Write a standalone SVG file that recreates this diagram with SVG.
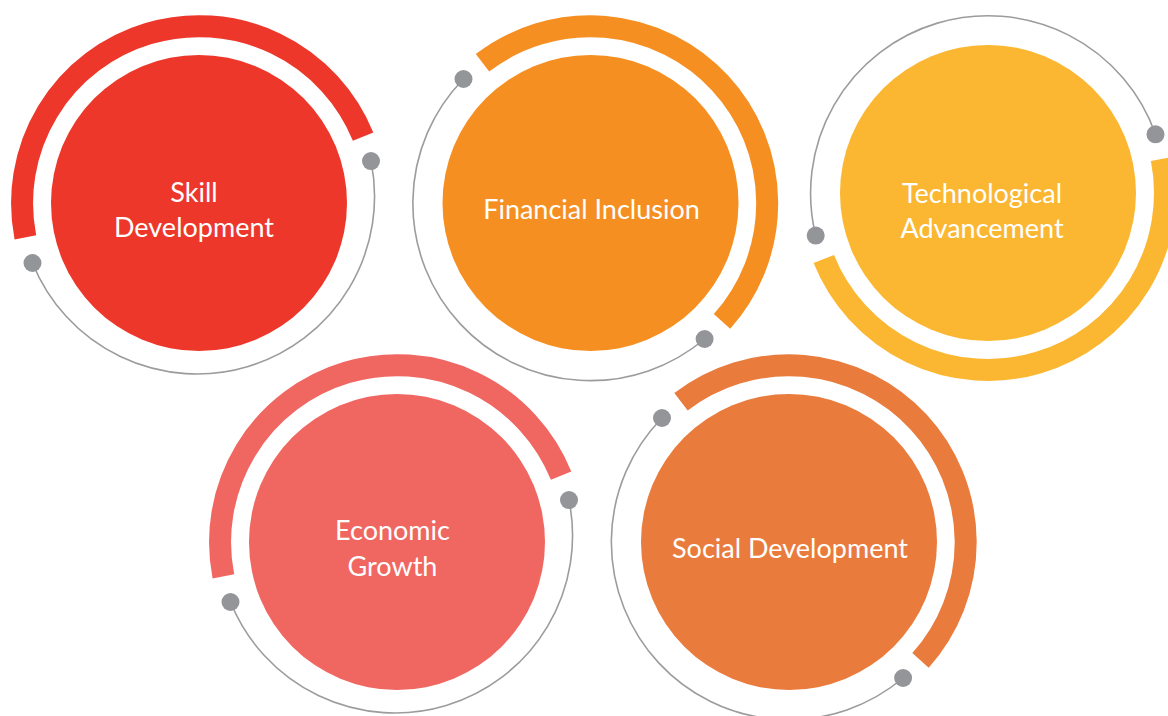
<svg xmlns="http://www.w3.org/2000/svg" width="1168" height="716" viewBox="0 0 1168 716">
<style>
.band{fill:none;stroke-width:22;stroke-linecap:butt}
.ring{fill:none;stroke:#9b9c9e;stroke-width:1.6}
.dot{fill:#939598}
.lbl{font-family:Lato,"Open Sans",sans-serif;font-size:27px;fill:#ffffff;text-anchor:middle}
</style>
<rect width="1168" height="716" fill="#ffffff"/>
<g id="node-skill">
<circle cx="199" cy="203" r="148" fill="#ed372a"/>
<path class="band" stroke="#ed372a" d="M25.4 237.4 A177 177 0 0 1 363.1 136.7"/>
<path class="ring" d="M371 161.1 A177.5 177.5 0 0 1 32.5 263"/>
<circle class="dot" cx="371" cy="161.1" r="9"/>
<circle class="dot" cx="32.5" cy="263" r="9"/>
<text class="lbl" x="194" y="202">Skill</text>
<text class="lbl" x="194" y="237">Development</text>
</g>
<g id="node-financial">
<circle cx="590.5" cy="203" r="148" fill="#f68f21"/>
<path class="band" stroke="#f68f21" d="M482.5 62.8 A177 177 0 0 1 722 321.4"/>
<path class="ring" d="M704.6 339 A177.5 177.5 0 0 1 463.5 79"/>
<circle class="dot" cx="704.6" cy="339" r="9"/>
<circle class="dot" cx="463.5" cy="79" r="9"/>
<text class="lbl" x="591.5" y="219">Financial Inclusion</text>
</g>
<g id="node-tech">
<circle cx="988" cy="193" r="148" fill="#fbb731"/>
<path class="band" stroke="#fbb731" d="M1161.7 158.9 A177 177 0 0 1 823.8 259"/>
<path class="ring" d="M815.7 235.6 A177.5 177.5 0 0 1 1155.5 134.3"/>
<circle class="dot" cx="815.7" cy="235.6" r="9"/>
<circle class="dot" cx="1155.5" cy="134.3" r="9"/>
<text class="lbl" x="982" y="203">Technological</text>
<text class="lbl" x="982" y="238">Advancement</text>
</g>
<g id="node-economic">
<circle cx="397" cy="542" r="148" fill="#f06661"/>
<path class="band" stroke="#f06661" d="M223.4 576.4 A177 177 0 0 1 561.1 475.7"/>
<path class="ring" d="M569 500.1 A177.5 177.5 0 0 1 230.5 602"/>
<circle class="dot" cx="569" cy="500.1" r="9"/>
<circle class="dot" cx="230.5" cy="602" r="9"/>
<text class="lbl" x="392.5" y="540">Economic</text>
<text class="lbl" x="392.5" y="576">Growth</text>
</g>
<g id="node-social">
<circle cx="789" cy="542" r="148" fill="#e97b3d"/>
<path class="band" stroke="#e97b3d" d="M681 401.8 A177 177 0 0 1 920.5 660.4"/>
<path class="ring" d="M903.1 678 A177.5 177.5 0 0 1 662 418"/>
<circle class="dot" cx="903.1" cy="678" r="9"/>
<circle class="dot" cx="662" cy="418" r="9"/>
<text class="lbl" x="790" y="558">Social Development</text>
</g>
<g id="connectors"></g>
</svg>
